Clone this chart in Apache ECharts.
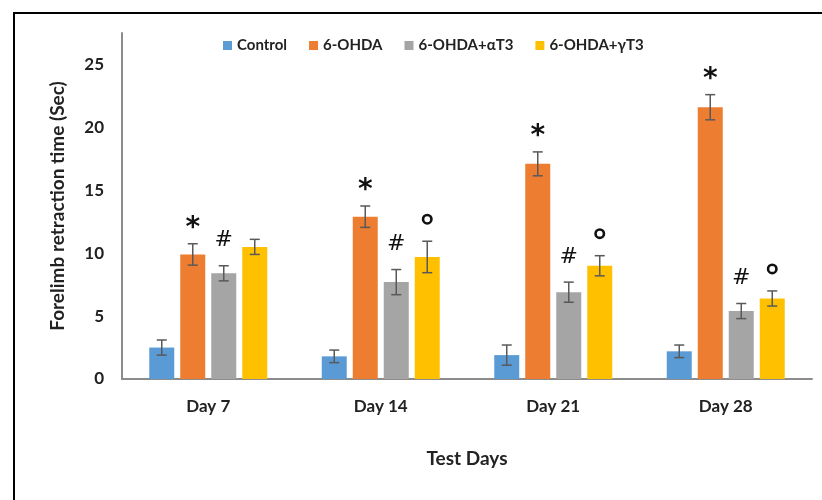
<!DOCTYPE html>
<html>
<head>
<meta charset="utf-8">
<script src="https://cdn.jsdelivr.net/npm/echarts@6/dist/echarts.min.js"></script>
<style>
html,body{margin:0;padding:0;background:#fff;}
#chart{width:822px;height:500px;}
</style>
</head>
<body>
<div id="chart"></div>
<script>
var categories = ['Day 7', 'Day 14', 'Day 21', 'Day 28'];
var seriesNames = ['Control', '6-OHDA', '6-OHDA+\u03b1T3', '6-OHDA+\u03b3T3'];
var controlValues = [2.5, 1.8, 1.9, 2.2];
var ohdaValues = [9.9, 12.9, 17.1, 21.6];
var alphaValues = [8.4, 7.7, 6.9, 5.4];
var gammaValues = [10.5, 9.7, 9.0, 6.4];
var controlErr = [0.6, 0.5, 0.8, 0.5];
var ohdaErr = [0.85, 0.85, 0.95, 1.0];
var alphaErr = [0.6, 1.0, 0.8, 0.6];
var gammaErr = [0.6, 1.25, 0.8, 0.6];
var controlMarks = ['', '', '', ''];
var ohdaMarks = ['*', '*', '*', '*'];
var alphaMarks = ['#', '#', '#', '#'];
var gammaMarks = ['', 'o', 'o', 'o'];
var yTicks = [0, 5, 10, 15, 20, 25];

var values = [controlValues, ohdaValues, alphaValues, gammaValues];
var errors = [controlErr, ohdaErr, alphaErr, gammaErr];
var marks = [controlMarks, ohdaMarks, alphaMarks, gammaMarks];
var colors = ['#5B9BD5', '#ED7D31', '#A5A5A5', '#FFC000'];

var BAR_W = 25, BAR_GAP = 6;
var nBars = 4;
var totalW = nBars * BAR_W + (nBars - 1) * BAR_GAP;
var FONT = 'Lato, "Open Sans", sans-serif';

var series = [];
for (var i = 0; i < nBars; i++) {
  series.push({
    name: seriesNames[i],
    type: 'bar',
    data: values[i],
    barWidth: BAR_W,
    barGap: (BAR_GAP / BAR_W * 100) + '%',
    itemStyle: { color: colors[i] },
    z: 2
  });
}
for (var j = 0; j < nBars; j++) {
  (function (k) {
    var data = categories.map(function (c, idx) {
      return [idx, values[k][idx], errors[k][idx]];
    });
    series.push({
      type: 'custom',
      name: 'err' + k,
      data: data,
      z: 5,
      silent: true,
      renderItem: function (params, api) {
        var x = api.value(0);
        var v = api.value(1);
        var e = api.value(2);
        var m = marks[k][params.dataIndex];
        var off = -totalW / 2 + k * (BAR_W + BAR_GAP) + BAR_W / 2;
        var pTop = api.coord([x, v + e]);
        var pBot = api.coord([x, v - e]);
        var cx = pTop[0] + off;
        var cap = 5;
        var st = { stroke: '#595959', lineWidth: 1.5 };
        var children = [
          { type: 'line', shape: { x1: cx, y1: pTop[1], x2: cx, y2: pBot[1] }, style: st },
          { type: 'line', shape: { x1: cx - cap, y1: pTop[1], x2: cx + cap, y2: pTop[1] }, style: st },
          { type: 'line', shape: { x1: cx - cap, y1: pBot[1], x2: cx + cap, y2: pBot[1] }, style: st }
        ];
        if (m === '*') {
          children.push({ type: 'text', style: { text: '*', x: cx, y: pTop[1] - 15, textAlign: 'center', textVerticalAlign: 'middle', font: 'bold 28px "DejaVu Sans", sans-serif', fill: '#111' } });
        } else if (m === '#') {
          children.push({ type: 'text', style: { text: '#', x: cx, y: pTop[1] - 25, textAlign: 'center', textVerticalAlign: 'middle', font: '22px "DejaVu Sans", sans-serif', fill: '#111' } });
        } else if (m === 'o') {
          children.push({ type: 'circle', shape: { cx: cx, cy: pTop[1] - 22, r: 4.2 }, style: { fill: 'none', stroke: '#111', lineWidth: 2.6 } });
        }
        return { type: 'group', children: children };
      }
    });
  })(j);
}

var chart = echarts.init(document.getElementById('chart'));
chart.setOption({
  animation: false,
  backgroundColor: '#fff',
  graphic: [{
    type: 'polyline',
    shape: { points: [[14, 503], [14, 13], [826, 13]] },
    style: { stroke: '#000', lineWidth: 2, fill: 'none' },
    z: 10
  }],
  legend: {
    data: seriesNames,
    left: 218,
    top: 33,
    itemWidth: 9,
    itemHeight: 9,
    itemGap: 22,
    icon: 'rect',
    textStyle: { fontFamily: FONT, fontWeight: 'bold', fontSize: 15, color: '#222' }
  },
  grid: { left: 122, right: 10, top: 33, bottom: 121 },
  xAxis: {
    type: 'category',
    data: categories,
    name: 'Test Days',
    nameLocation: 'middle',
    nameGap: 70,
    nameTextStyle: { fontFamily: FONT, fontWeight: 'bold', fontSize: 19, color: '#222' },
    axisLine: { lineStyle: { color: '#8c8c8c', width: 2 } },
    axisTick: { show: false },
    axisLabel: { fontFamily: FONT, fontWeight: 'bold', fontSize: 17, color: '#222', margin: 19 }
  },
  yAxis: {
    type: 'value',
    min: 0,
    max: 27.5,
    interval: 5,
    name: 'Forelimb retraction time (Sec)',
    nameLocation: 'middle',
    nameGap: 55,
    nameTextStyle: { fontFamily: FONT, fontWeight: 'bold', fontSize: 19, color: '#222' },
    axisLine: { show: true, lineStyle: { color: '#8c8c8c', width: 2 } },
    axisTick: { show: false },
    splitLine: { show: false },
    axisLabel: {
      fontFamily: FONT, fontWeight: 'bold', fontSize: 17, color: '#222', margin: 18,
      showMaxLabel: false,
      formatter: function (v) { return yTicks.indexOf(v) >= 0 ? String(v) : ''; }
    }
  },
  series: series
});
</script>
</body>
</html>
